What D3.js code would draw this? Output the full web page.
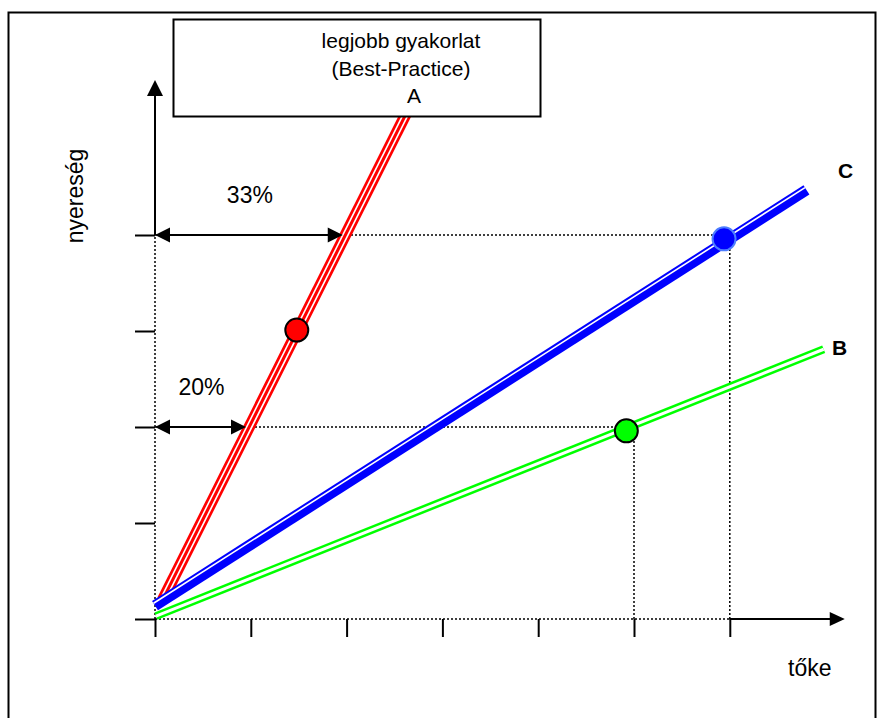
<!DOCTYPE html>
<html><head><meta charset="utf-8">
<script src="https://cdn.jsdelivr.net/npm/d3@7"></script>
<style>body{margin:0;background:#fff} svg{display:block}</style>
</head><body><svg id="c" width="877" height="718"></svg>
<script>
// ---- data ----
const xTicks = [0, 1, 2, 3, 4, 5, 6];
const yTicks = [0, 1, 2, 3, 4];
const lineA = [[0.08, 0.2], [2.64, 5.3]];   // legjobb gyakorlat (red)
const lineB = [[0.01, 0.03], [6.98, 2.81]];  // B (green)
const lineC = [[0.0, 0.14], [6.8, 4.47]];    // C (blue)
const pointA = [1.48, 3.01];
const pointB = [4.92, 1.96];
const pointC = [5.94, 3.96];
const guideX = [6, 5];          // vertical guide positions
const guideY = [4, 2];          // horizontal guide levels
const pctLabels = ["33%", "20%"];
const pctTips = [1.96, 0.95];   // where the % arrows end
const axisXEnd = 7.2, axisYEnd = 5.615;
const boxLines = ["legjobb gyakorlat", "(Best-Practice)", "A"];

const FONT = "'Liberation Sans', Arial, sans-serif";
const svg = d3.select("#c");
const x = d3.scaleLinear().domain([0, 7]).range([155, 155 + 95.8 * 7]);
const y = d3.scaleLinear().domain([0, 5]).range([619, 619 - 96 * 5]);

// outer frame
svg.append("path").attr("d", "M8.5,730 L8.5,12.5 L875.5,12.5 L875.5,730")
  .attr("fill", "none").attr("stroke", "#000").attr("stroke-width", 2);

const dotted = (x1, y1, x2, y2) => svg.append("line")
  .attr("x1", x1).attr("y1", y1).attr("x2", x2).attr("y2", y2)
  .attr("stroke", "#000").attr("stroke-width", 1.5).attr("stroke-dasharray", "2,2");
const solid = (x1, y1, x2, y2, w = 2) => svg.append("line")
  .attr("x1", x1).attr("y1", y1).attr("x2", x2).attr("y2", y2)
  .attr("stroke", "#000").attr("stroke-width", w);
const tri = (pts) => svg.append("polygon").attr("points", pts.map(p => p.join(",")).join(" ")).attr("fill", "#000");

// ticks via d3 axes
const gx = svg.append("g").attr("transform", `translate(0,${y(0)})`)
  .call(d3.axisBottom(x).tickValues(xTicks).tickSize(18).tickFormat(""));
gx.select(".domain").remove();
gx.selectAll(".tick line").attr("stroke", "#000").attr("stroke-width", 2);
const gy = svg.append("g").attr("transform", `translate(${x(0)},0)`)
  .call(d3.axisLeft(y).tickValues(yTicks).tickSize(20).tickFormat(""));
gy.select(".domain").remove();
gy.selectAll(".tick line").attr("stroke", "#000").attr("stroke-width", 2);

// dotted frame + guides
dotted(x(0), y(0), x(guideX[0]), y(0));
dotted(x(0), y(0), x(0), y(guideY[0]));
guideY.forEach((gv, i) => {
  dotted(x(0), y(gv), x(guideX[i]), y(gv));
  dotted(x(guideX[i]), y(0), x(guideX[i]), y(gv));
});

// solid axis parts with arrowheads
solid(x(0), y(guideY[0]), x(0), y(axisYEnd) + 14);
tri([[x(0), y(axisYEnd)], [x(0) - 8, y(axisYEnd) + 16], [x(0) + 8, y(axisYEnd) + 16]]);
solid(x(guideX[0]), y(0), x(axisXEnd) - 14, y(0));
tri([[x(axisXEnd), y(0)], [x(axisXEnd) - 15, y(0) - 7], [x(axisXEnd) - 15, y(0) + 7]]);

// lines
function seg(data, w, color, off = 0) {
  const p1 = [x(data[0][0]), y(data[0][1])], p2 = [x(data[1][0]), y(data[1][1])];
  const dx = p2[0] - p1[0], dy = p2[1] - p1[1], L = Math.hypot(dx, dy);
  const nx = dy / L, ny = -dx / L;
  svg.append("line")
    .attr("x1", p1[0] + nx * off).attr("y1", p1[1] + ny * off)
    .attr("x2", p2[0] + nx * off).attr("y2", p2[1] + ny * off)
    .attr("stroke", color).attr("stroke-width", w).attr("stroke-linecap", "butt");
}
seg(lineA, 11.5, "#ff0000");
seg(lineA, 6.2, "#ffffff");
seg(lineA, 3, "#ff0000");
seg(lineC, 11, "#0000ff");
seg(lineC, 1.6, "#ffffff", 2.7);
seg(lineB, 8, "#00ff00");
seg(lineB, 3, "#ffffff");

// percent arrows
guideY.forEach((gv, i) => {
  const x0 = x(0), x1 = x(pctTips[i]), yy = y(gv);
  solid(x0 + 10, yy, x1 - 10, yy);
  tri([[x0, yy], [x0 + 15, yy - 7.5], [x0 + 15, yy + 7.5]]);
  tri([[x1, yy], [x1 - 15, yy - 7.5], [x1 - 15, yy + 7.5]]);
  svg.append("text").attr("x", (x0 + x1) / 2 + 1).attr("y", yy - 32)
    .attr("text-anchor", "middle").attr("font-family", FONT).attr("font-size", 23)
    .text(pctLabels[i]);
});

// points
svg.append("circle").attr("cx", x(pointA[0])).attr("cy", y(pointA[1])).attr("r", 11.5)
  .attr("fill", "#ff0000").attr("stroke", "#000").attr("stroke-width", 2);
svg.append("circle").attr("cx", x(pointB[0])).attr("cy", y(pointB[1])).attr("r", 11.5)
  .attr("fill", "#00ff00").attr("stroke", "#000").attr("stroke-width", 2);
svg.append("circle").attr("cx", x(pointC[0])).attr("cy", y(pointC[1])).attr("r", 11.5)
  .attr("fill", "#0000ff").attr("stroke", "#4d7dff").attr("stroke-width", 2);

// box
svg.append("rect").attr("x", 173.5).attr("y", 19.5).attr("width", 367).attr("height", 97)
  .attr("fill", "#fff").attr("stroke", "#000").attr("stroke-width", 2);
const boxX = [401, 401, 414];
boxLines.forEach((t, i) => svg.append("text").attr("x", boxX[i]).attr("y", 48 + i * 27.5)
  .attr("text-anchor", "middle").attr("font-family", FONT).attr("font-size", 21).text(t));

// labels
svg.append("text").attr("x", 838).attr("y", 178).attr("font-family", FONT)
  .attr("font-size", 21).attr("font-weight", "bold").text("C");
svg.append("text").attr("x", 832).attr("y", 355).attr("font-family", FONT)
  .attr("font-size", 21).attr("font-weight", "bold").text("B");
svg.append("text").attr("x", 788).attr("y", 676).attr("font-family", FONT)
  .attr("font-size", 23).text("tőke");
svg.append("text").attr("transform", "translate(83,196) rotate(-90)")
  .attr("text-anchor", "middle").attr("font-family", FONT).attr("font-size", 23).text("nyereség");
</script></body></html>
